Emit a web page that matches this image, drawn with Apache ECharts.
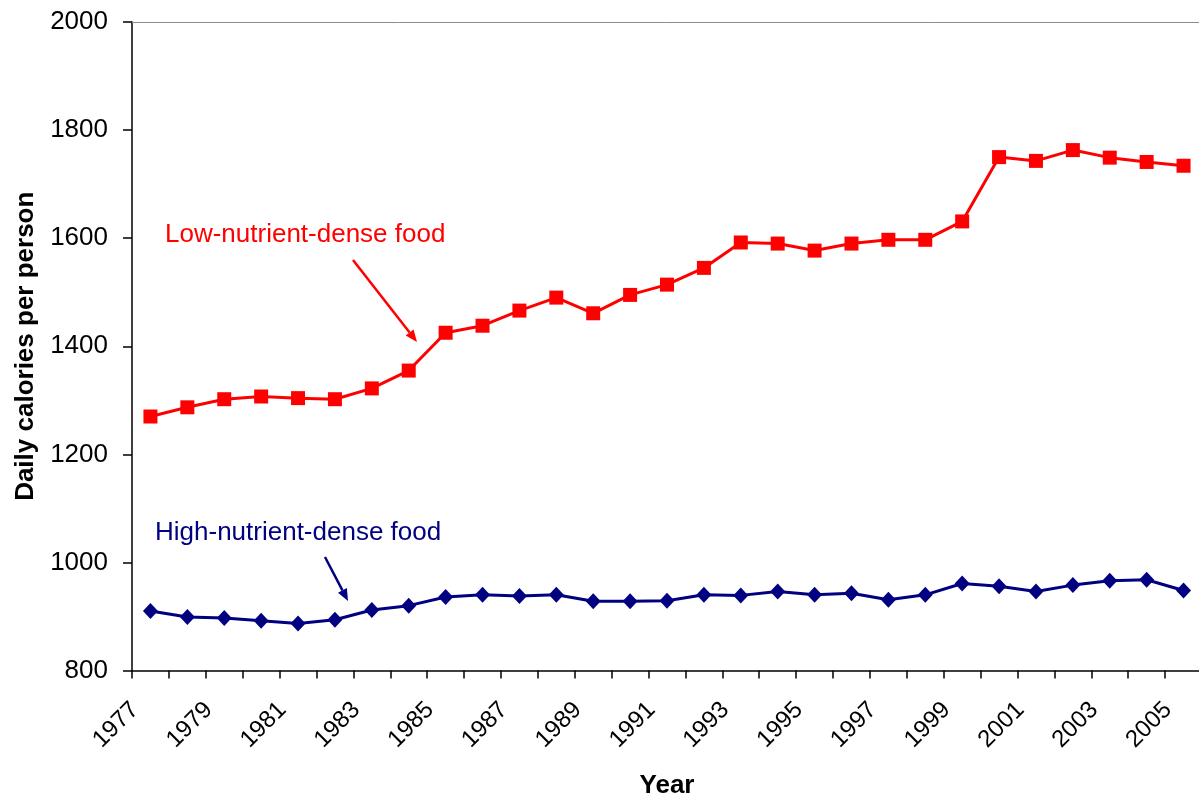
<!DOCTYPE html>
<html>
<head>
<meta charset="utf-8">
<script src="https://cdn.jsdelivr.net/npm/echarts@6/dist/echarts.min.js"></script>
<style>
  html, body { margin: 0; padding: 0; background: #fff; }
  #chart { width: 1199px; height: 797px; }
</style>
</head>
<body>
<div id="chart"></div>
<script>
// Data
const years = ['1977','1978','1979','1980','1981','1982','1983','1984','1985','1986',
               '1987','1988','1989','1990','1991','1992','1993','1994','1995','1996',
               '1997','1998','1999','2000','2001','2002','2003','2004','2005'];
const lowNutrient = [1270,1287,1302,1307,1304,1302,1322,1355,1425,1438,
                     1466,1490,1461,1495,1514,1545,1592,1590,1577,1590,
                     1597,1597,1631,1750,1743,1763,1749,1741,1734];
const highNutrient = [910,899,897,892,887,894,912,920,936,940,
                      938,940,928,928,929,940,939,946,940,943,
                      931,940,961,956,946,958,966,968,948];
const yTicks = { min: 800, max: 2000, step: 200 };

const FONT = '"Liberation Sans", Arial, sans-serif';
const RED = '#ff0000';
const NAVY = '#000080';

// arrow made of a line and a small filled head
function arrow(x1, y1, x2, y2, color) {
    const dx = x2 - x1, dy = y2 - y1;
    const len = Math.sqrt(dx * dx + dy * dy);
    const ux = dx / len, uy = dy / len;
    const head = 12, half = 5;
    const bx = x2 - ux * head, by = y2 - uy * head;
    return [
        {
            type: 'line',
            shape: { x1: x1, y1: y1, x2: bx, y2: by },
            style: { stroke: color, lineWidth: 2.5 }
        },
        {
            type: 'polygon',
            shape: { points: [[x2, y2], [bx - uy * half, by + ux * half], [bx + uy * half, by - ux * half]] },
            style: { fill: color }
        }
    ];
}

const myChart = echarts.init(document.getElementById('chart'));

const option = {
    backgroundColor: '#ffffff',
    animation: false,
    grid: {
        left: 132,
        top: 22,
        width: 1070,
        height: 648.5,
        outerBoundsMode: 'none'
    },
    xAxis: [{
        type: 'category',
        data: years,
        boundaryGap: true,
        name: 'Year',
        nameLocation: 'middle',
        nameGap: 102,
        nameTextStyle: { fontFamily: FONT, fontSize: 26, fontWeight: 'bold', color: '#000' },
        axisLine: { lineStyle: { color: '#000', width: 1.5 } },
        axisTick: { show: true, interval: 0, length: 8, lineStyle: { color: '#000', width: 1.5 } },
        axisLabel: {
            interval: 1,
            rotate: 45,
            margin: 20,
            padding: [0, 22, 0, 0],
            fontFamily: FONT,
            fontSize: 24,
            color: '#000'
        },
        splitLine: { show: false }
    }, {
        // plain top border of the plot area
        type: 'category',
        data: years,
        position: 'top',
        axisLine: { show: true, lineStyle: { color: '#8c8c8c', width: 1 } },
        axisTick: { show: false },
        axisLabel: { show: false },
        splitLine: { show: false }
    }],
    yAxis: {
        type: 'value',
        min: yTicks.min,
        max: yTicks.max,
        interval: yTicks.step,
        name: 'Daily calories per person',
        nameLocation: 'middle',
        nameGap: 92,
        nameTextStyle: { fontFamily: FONT, fontSize: 26, fontWeight: 'bold', color: '#000' },
        axisLine: { show: true, lineStyle: { color: '#000', width: 1.5 } },
        axisTick: { show: true, length: 9, lineStyle: { color: '#000', width: 1.5 } },
        axisLabel: {
            margin: 24,
            fontFamily: FONT,
            fontSize: 26,
            color: '#000',
            formatter: function (v) { return String(v); }
        },
        splitLine: { show: false }
    },
    series: [
        {
            name: 'Low-nutrient-dense food',
            type: 'line',
            data: lowNutrient,
            symbol: 'rect',
            symbolSize: 14,
            lineStyle: { color: RED, width: 3 },
            itemStyle: { color: RED },
            z: 3
        },
        {
            name: 'High-nutrient-dense food',
            type: 'line',
            data: highNutrient,
            symbol: 'diamond',
            symbolSize: [15, 16],
            lineStyle: { color: NAVY, width: 3 },
            itemStyle: { color: NAVY },
            z: 3
        }
    ],
    graphic: [
        {
            type: 'text',
            left: 165,
            top: 222,
            style: { text: 'Low-nutrient-dense food', font: '26px ' + FONT, fill: RED }
        },
        {
            type: 'text',
            left: 155,
            top: 520,
            style: { text: 'High-nutrient-dense food', font: '26px ' + FONT, fill: NAVY }
        }
    ].concat(arrow(353, 260, 417, 342, RED), arrow(325, 557, 348, 601, NAVY))
};

myChart.setOption(option, true);
</script>
</body>
</html>
